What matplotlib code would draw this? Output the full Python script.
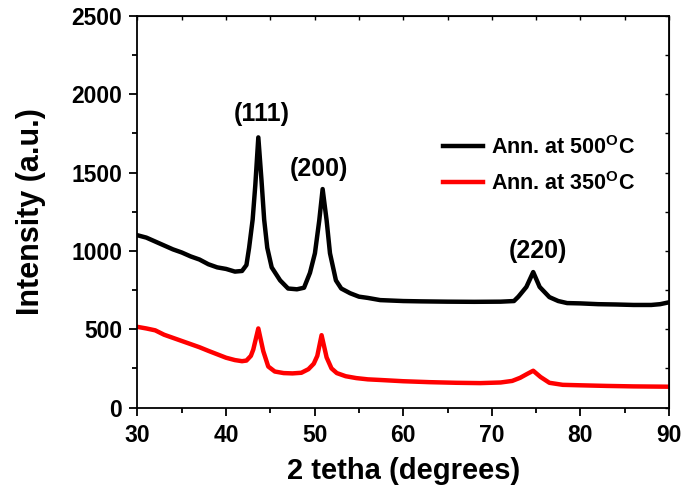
import matplotlib
matplotlib.use("Agg")
import matplotlib.pyplot as plt
from matplotlib.ticker import MultipleLocator

plt.rcParams['font.family'] = ['Liberation Sans', 'DejaVu Sans']
plt.rcParams['font.weight'] = 'bold'
plt.rcParams['mathtext.fontset'] = 'custom'
plt.rcParams['mathtext.rm'] = 'Liberation Sans:bold'
plt.rcParams['mathtext.bf'] = 'Liberation Sans:bold'

# XRD pattern, annealed at 500 C
two_theta_500 = [30, 31, 32, 33, 34, 35, 36, 37, 38, 39, 40, 41, 41.8, 42.3, 42.6,
                 43.0, 43.3, 43.64, 44.0, 44.3, 44.65, 45.15, 46.1, 47.0, 48.0, 48.8,
                 49.47, 50.03, 50.52, 50.9, 51.35, 51.73, 52.4, 53.0, 54.0, 55.0, 56,
                 57.4, 60, 62, 65, 68, 71, 72.5, 73.0, 73.9, 74.67, 75.4, 76.5, 77.5,
                 78.5, 80, 82, 84, 86, 88, 89, 90]
int_500 = [1100, 1085, 1060, 1035, 1010, 990, 965, 945, 915, 895, 885, 868, 872, 910, 1020,
           1200, 1420, 1725, 1450, 1200, 1020, 895, 812, 760, 755, 765,
           860, 985, 1195, 1395, 1195, 985, 812, 760, 730, 708, 700,
           686, 680, 678, 676, 675, 676, 680, 708, 770, 865, 770, 705, 680,
           667, 665, 660, 658, 655, 655, 660, 672]

# XRD pattern, annealed at 350 C
two_theta_350 = [30, 31, 32, 33, 34, 35, 36, 37, 38, 39, 40, 41, 41.8, 42.3, 42.8,
                 43.07, 43.64, 44.2, 44.76, 45.5, 46.5, 47.5, 48.5, 49.3, 49.9, 50.3,
                 50.78, 51.35, 51.9, 52.5, 53.5, 54.7, 56, 57.4, 60, 63, 66, 68.7, 71,
                 72.3, 73.2, 74.0, 74.67, 75.5, 76.5, 78, 80, 83, 86, 90]
int_350 = [515, 505, 493, 465, 445, 425, 405, 385, 362, 340, 318, 303, 296, 300, 330,
           370, 505, 360, 262, 230, 220, 218, 222, 245, 280, 330,
           462, 320, 250, 220, 200, 188, 180, 176, 168, 162, 158, 156, 160,
           170, 190, 215, 235, 195, 158, 145, 142, 138, 135, 133]

peak_labels = ['(111)', '(200)', '(220)']
peak_pos = [44.0, 50.5, 75.15]
peak_y = [1874, 1523, 1000]

fig = plt.figure(figsize=(6.83, 4.97), dpi=100)
ax = fig.add_axes([0.2013, 0.180, 0.7782, 0.7878])

ax.plot(two_theta_500, int_500, color='black', lw=3.2, label='Ann. at 500$^{\\mathbf{O}}$C')
ax.plot(two_theta_350, int_350, color='red', lw=3.2, label='Ann. at 350$^{\\mathbf{O}}$C')

for lab, px, py in zip(peak_labels, peak_pos, peak_y):
    ax.text(px, py, lab, ha='center', va='center', fontsize=18, fontweight='bold')

ax.set_xlim(30, 90)
ax.set_ylim(0, 2500)
ax.xaxis.set_major_locator(MultipleLocator(10))
ax.xaxis.set_minor_locator(MultipleLocator(5))
ax.yaxis.set_major_locator(MultipleLocator(500))
ax.yaxis.set_minor_locator(MultipleLocator(250))
ax.tick_params(which='both', direction='out', top=False, right=False, width=1.3, labelsize=16.5)
ax.tick_params(which='major', length=6)
ax.tick_params(which='minor', length=3.5)
ax.tick_params(axis='x', pad=6)
ax.tick_params(axis='y', pad=5)
for s in ax.spines.values():
    s.set_linewidth(1.3)

# small inward ticks on the top and right frame
axt = ax.secondary_xaxis('top')
axt.xaxis.set_major_locator(MultipleLocator(5))
axt.tick_params(direction='in', length=3, width=1, labeltop=False)
axr = ax.secondary_yaxis('right')
axr.yaxis.set_major_locator(MultipleLocator(250))
axr.tick_params(direction='in', length=3, width=1, labelright=False)

ax.set_xlabel('2 tetha (degrees)', fontsize=21, fontweight='bold')
ax.set_ylabel('Intensity (a.u.)', fontsize=22, fontweight='bold')
ax.xaxis.set_label_coords(0.5, -0.127)
ax.yaxis.set_label_coords(-0.172, 0.5)

ax.legend(loc='center left', bbox_to_anchor=(0.574, 0.619), frameon=False,
          fontsize=15.5, handlelength=1.9, borderpad=0, borderaxespad=0,
          labelspacing=0.6, handletextpad=0.35)

fig.savefig('out.png', dpi=100)
